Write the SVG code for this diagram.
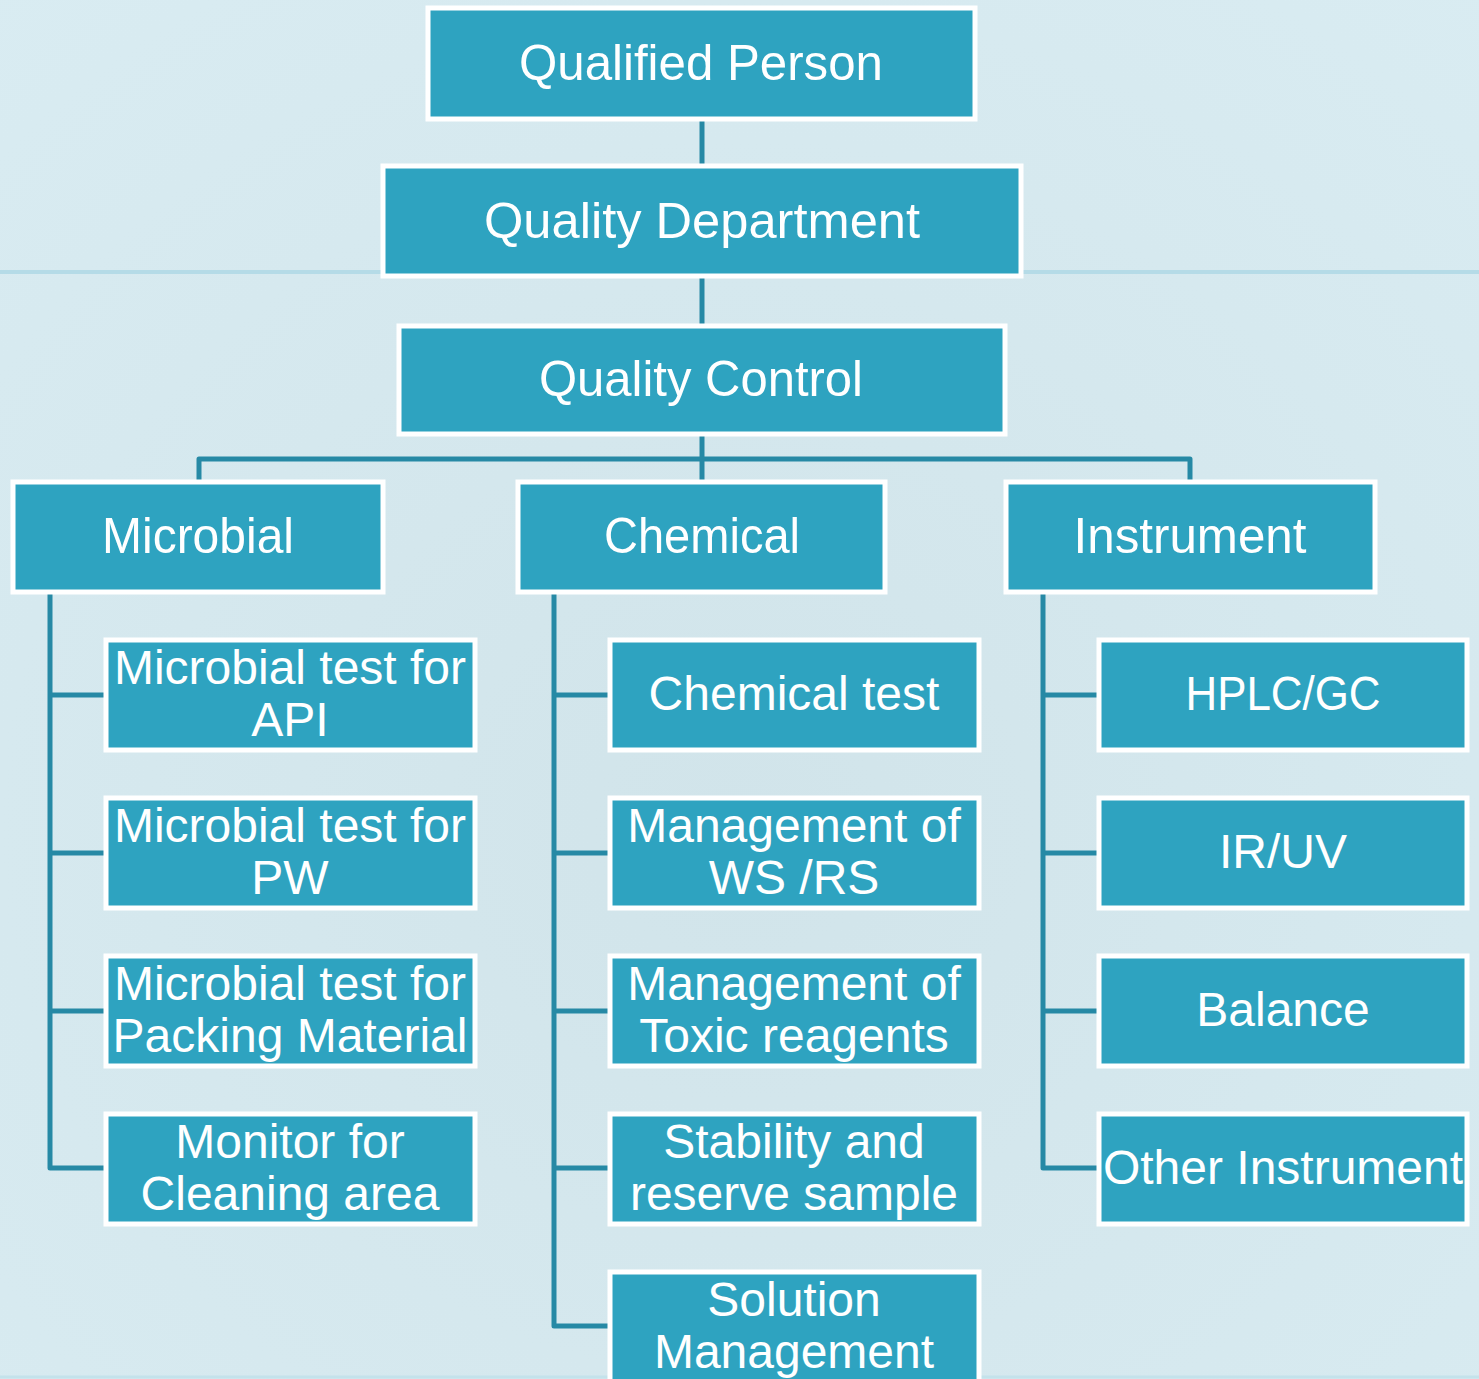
<svg xmlns="http://www.w3.org/2000/svg" width="1479" height="1379" viewBox="0 0 1479 1379">
<defs>
<style>
.box{fill:#2ea3c0;stroke:#ffffff;stroke-width:5}
.t{fill:#ffffff;font-family:"Liberation Sans",Arial,sans-serif;text-anchor:middle}
.t1{font-size:50px}
.t2{font-size:48px}
.c{fill:none;stroke:#2689a5;stroke-width:5;stroke-linejoin:round}
</style>
<radialGradient id="bg" cx="0.5" cy="0.6" r="0.8">
<stop offset="0" stop-color="#d1e4ea"/>
<stop offset="1" stop-color="#d9ecf2"/>
</radialGradient>
</defs>
<rect x="0" y="0" width="1479" height="1379" fill="url(#bg)"/>
<line x1="0" y1="272" x2="1479" y2="272" stroke="#b5dbe7" stroke-width="4"/>
<line x1="0" y1="1377" x2="1479" y2="1377" stroke="#c4e2eb" stroke-width="3"/>

<g id="connectors">
<path class="c" d="M702 120 V166"/>
<path class="c" d="M702 277 V326"/>
<path class="c" d="M702 434 V482"/>
<path class="c" d="M199 482 V459 H1190 V482"/>
<path class="c" d="M50 592 V1168 H106"/>
<path class="c" d="M50 695 H106 M50 853 H106 M50 1011 H106"/>
<path class="c" d="M554 592 V1326 H610"/>
<path class="c" d="M554 695 H610 M554 853 H610 M554 1011 H610 M554 1168 H610"/>
<path class="c" d="M1043 592 V1168 H1099"/>
<path class="c" d="M1043 695 H1099 M1043 853 H1099 M1043 1011 H1099"/>
</g>

<g id="qualified-person"><rect class="box" x="428" y="8" width="547" height="111"/><text class="t t1" x="701" y="80" textLength="364" lengthAdjust="spacingAndGlyphs">Qualified Person</text></g>
<g id="quality-department"><rect class="box" x="383" y="166" width="638" height="110"/><text class="t t1" x="702" y="238" textLength="436" lengthAdjust="spacingAndGlyphs">Quality Department</text></g>
<g id="quality-control"><rect class="box" x="399" y="326" width="606" height="108"/><text class="t t1" x="701" y="396" textLength="324" lengthAdjust="spacingAndGlyphs">Quality Control</text></g>

<g id="microbial"><rect class="box" x="13" y="482" width="370" height="110"/><text class="t t1" x="198" y="553" textLength="192" lengthAdjust="spacingAndGlyphs">Microbial</text></g>
<g id="chemical"><rect class="box" x="518" y="482" width="367" height="110"/><text class="t t1" x="702" y="553" textLength="196" lengthAdjust="spacingAndGlyphs">Chemical</text></g>
<g id="instrument"><rect class="box" x="1006" y="482" width="369" height="110"/><text class="t t1" x="1190" y="553" textLength="233" lengthAdjust="spacingAndGlyphs">Instrument</text></g>

<g id="mic-api"><rect class="box" x="106" y="640" width="369" height="110"/><text class="t t2" x="290" y="684">Microbial test for</text><text class="t t2" x="290" y="736">API</text></g>
<g id="mic-pw"><rect class="box" x="106" y="798" width="369" height="110"/><text class="t t2" x="290" y="842">Microbial test for</text><text class="t t2" x="290" y="894">PW</text></g>
<g id="mic-pack"><rect class="box" x="106" y="956" width="369" height="110"/><text class="t t2" x="290" y="1000">Microbial test for</text><text class="t t2" x="290" y="1052">Packing Material</text></g>
<g id="mic-clean"><rect class="box" x="106" y="1114" width="369" height="110"/><text class="t t2" x="290" y="1158">Monitor for</text><text class="t t2" x="290" y="1210">Cleaning area</text></g>

<g id="chem-test"><rect class="box" x="610" y="640" width="369" height="110"/><text class="t t2" x="794" y="710">Chemical test</text></g>
<g id="chem-ws"><rect class="box" x="610" y="798" width="369" height="110"/><text class="t t2" x="794" y="842">Management of</text><text class="t t2" x="794" y="894">WS /RS</text></g>
<g id="chem-toxic"><rect class="box" x="610" y="956" width="369" height="110"/><text class="t t2" x="794" y="1000">Management of</text><text class="t t2" x="794" y="1052">Toxic reagents</text></g>
<g id="chem-stab"><rect class="box" x="610" y="1114" width="369" height="110"/><text class="t t2" x="794" y="1158">Stability and</text><text class="t t2" x="794" y="1210">reserve sample</text></g>
<g id="chem-sol"><rect class="box" x="610" y="1272" width="369" height="130"/><text class="t t2" x="794" y="1316">Solution</text><text class="t t2" x="794" y="1368">Management</text></g>

<g id="inst-hplc"><rect class="box" x="1099" y="640" width="368" height="110"/><text class="t t2" x="1283" y="710" textLength="195" lengthAdjust="spacingAndGlyphs">HPLC/GC</text></g>
<g id="inst-ir"><rect class="box" x="1099" y="798" width="368" height="110"/><text class="t t2" x="1283" y="868">IR/UV</text></g>
<g id="inst-bal"><rect class="box" x="1099" y="956" width="368" height="110"/><text class="t t2" x="1283" y="1026">Balance</text></g>
<g id="inst-other"><rect class="box" x="1099" y="1114" width="368" height="110"/><text class="t t2" x="1283" y="1184">Other Instrument</text></g>
</svg>
